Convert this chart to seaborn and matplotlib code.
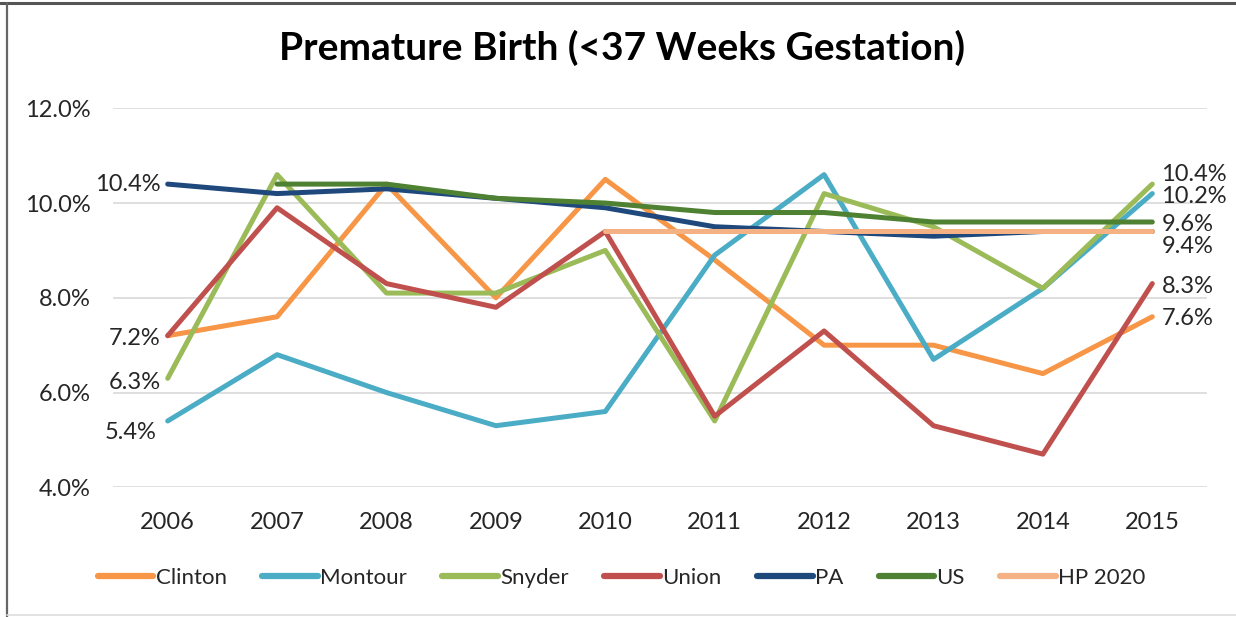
import matplotlib
matplotlib.use("Agg")
import matplotlib.pyplot as plt
from matplotlib.lines import Line2D
import numpy as np
import pandas as pd
import seaborn as sns

years = ["2006", "2007", "2008", "2009", "2010", "2011", "2012", "2013", "2014", "2015"]

clinton = [7.2, 7.6, 10.4, 8.0, 10.5, 8.8, 7.0, 7.0, 6.4, 7.6]
montour = [5.4, 6.8, 6.0, 5.3, 5.6, 8.9, 10.6, 6.7, 8.2, 10.2]
snyder = [6.3, 10.6, 8.1, 8.1, 9.0, 5.4, 10.2, 9.5, 8.2, 10.4]
union = [7.2, 9.9, 8.3, 7.8, 9.4, 5.5, 7.3, 5.3, 4.7, 8.3]
pa = [10.4, 10.2, 10.3, 10.1, 9.9, 9.5, 9.4, 9.3, 9.4, 9.4]
us = [np.nan, 10.4, 10.4, 10.1, 10.0, 9.8, 9.8, 9.6, 9.6, 9.6]
hp2020 = [np.nan, np.nan, np.nan, np.nan, 9.4, 9.4, 9.4, 9.4, 9.4, 9.4]

series_names = ["Clinton", "Montour", "Snyder", "Union", "PA", "US", "HP 2020"]
series_values = [clinton, montour, snyder, union, pa, us, hp2020]
colors = ["#F79646", "#4BACC6", "#9BBB59", "#C0504D", "#1F497D", "#4F8132", "#F4B183"]

# value labels at the first / last year: (series, x-offset pt, y-offset pt)
start_labels = [("PA", -5, 0), ("Clinton", -5, -2), ("Snyder", -5, -3), ("Montour", -8, -8)]
end_labels = [("Snyder", 6, 7), ("Montour", 6, -2), ("US", 7, -2), ("HP 2020", 7, -11), ("Union", 7, -2), ("Clinton", 7, -1)]

sns.set_theme(style="white")
plt.rcParams["font.family"] = ["Lato", "DejaVu Sans"]
plt.rcParams["lines.solid_capstyle"] = "round"
plt.rcParams["lines.solid_joinstyle"] = "round"

rows = []
for name, vals in zip(series_names, series_values):
    for i, v in enumerate(vals):
        if not np.isnan(v):
            rows.append({"series": name, "xi": i, "value": v})
df = pd.DataFrame(rows)

fig = plt.figure(figsize=(12.36, 6.17), dpi=100)
ax = fig.add_axes([113 / 1236, 1 - 487.3 / 617, (1207 - 113) / 1236, (487.3 - 108.3) / 617])

sns.lineplot(data=df, x="xi", y="value", hue="series", hue_order=series_names,
             palette=dict(zip(series_names, colors)), linewidth=3.6,
             estimator=None, sort=True, legend=False, ax=ax)

ax.set_xlim(-0.5, len(years) - 0.5)
ax.set_ylim(4, 12)
ax.set_yticks([4, 6, 8, 10, 12])
ax.set_yticklabels([f"{t:.1f}%" for t in [4, 6, 8, 10, 12]])
ax.set_xticks(range(len(years)))
ax.set_xticklabels(years)
ax.grid(axis="y", color="#D9D9D9", linewidth=1.2)
ax.set_axisbelow(True)
for s in ax.spines.values():
    s.set_visible(False)
ax.tick_params(axis="both", length=0, labelsize=17, colors="#262626")
ax.tick_params(axis="y", pad=16)
ax.tick_params(axis="x", pad=18)
ax.set_xlabel("")
ax.set_ylabel("")

lookup = dict(zip(series_names, series_values))
for name, dx, dy in start_labels:
    v = lookup[name][0]
    ax.annotate(f"{v:.1f}%", (0, v), xytext=(dx, dy), textcoords="offset points",
                ha="right", va="center", fontsize=17, color="#262626")
last = len(years) - 1
for name, dx, dy in end_labels:
    v = lookup[name][last]
    ax.annotate(f"{v:.1f}%", (last, v), xytext=(dx, dy), textcoords="offset points",
                ha="left", va="center", fontsize=17, color="#262626", annotation_clip=False)

fig.text(0.503, 1 - 48 / 617, "Premature Birth (<37 Weeks Gestation)", ha="center", va="center",
         fontsize=28, fontweight="bold", color="black")

handles = [Line2D([0], [0], color=c, linewidth=4.5) for c in colors]
fig.legend(handles, series_names, loc="center", bbox_to_anchor=(0.503, 1 - 578 / 617), ncol=7,
           frameon=False, fontsize=16, handlelength=2.5, handletextpad=0.1, columnspacing=1.6,
           labelcolor="#262626")

# outer chart frame
fig.add_artist(Line2D([0, 1], [1 - 3 / 617, 1 - 3 / 617], color="#555555", linewidth=2.2, transform=fig.transFigure))
fig.add_artist(Line2D([7 / 1236, 7 / 1236], [0, 1 - 3 / 617], color="#666666", linewidth=1.6, transform=fig.transFigure))
fig.add_artist(Line2D([7 / 1236, 1], [1 - 615 / 617, 1 - 615 / 617], color="#DDDDDD", linewidth=1.2, transform=fig.transFigure))

fig.savefig("out.png", dpi=100, facecolor="white")
